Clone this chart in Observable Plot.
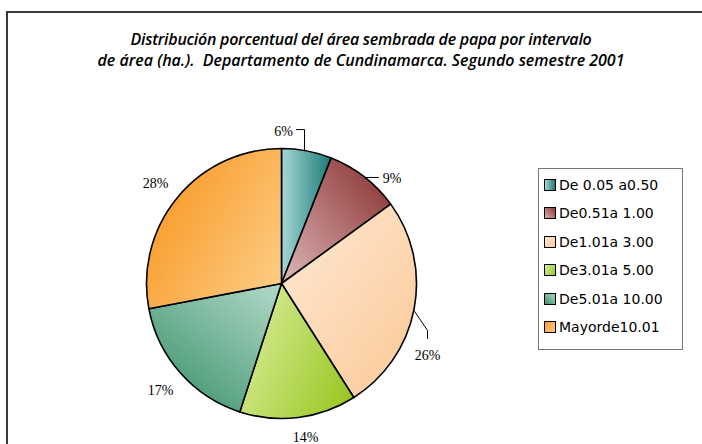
<!DOCTYPE html>
<html><head><meta charset="utf-8">
<script src="https://cdn.jsdelivr.net/npm/d3@7"></script>
<script src="https://cdn.jsdelivr.net/npm/@observablehq/plot@0.6"></script>
<style>
body{margin:0;background:#fff;}
#wrap{position:relative;width:702px;height:444px;overflow:hidden;background:#fff;}
#frame{position:absolute;left:6px;top:11px;width:800px;height:600px;border-left:2px solid #3a3a3a;border-top:2px solid #3a3a3a;pointer-events:none;}
#title{position:absolute;left:0;top:29px;width:722px;text-align:center;font:italic 600 16px "Open Sans";line-height:21px;color:#000;}
#title span{display:inline-block;white-space:pre;}
#chart{position:absolute;left:0;top:80px;}
#legend{position:absolute;left:538px;top:168px;width:145px;height:182px;border:1px solid #777;box-sizing:border-box;background:#fff;}
.item{position:absolute;left:5px;height:16px;display:flex;align-items:center;font:14px "DejaVu Sans";white-space:pre;color:#000;}
.sw{width:10px;height:10px;border:1px solid #000;margin-right:3px;flex:none;}
</style>
</head>
<body>
<div id="wrap">
  <div id="title"><span id="t1">Distribución porcentual del área sembrada de papa por intervalo</span><br><span id="t2">de área (ha.).  Departamento de Cundinamarca. Segundo semestre 2001</span></div>
  <div id="chart"></div>
  <div id="legend"></div>
  <div id="frame"></div>
</div>
<script>
// ---- data ----
const categories = ["De 0.05 a0.50", "De0.51a 1.00", "De1.01a 3.00", "De3.01a 5.00", "De5.01a 10.00", "Mayorde10.01"];
const percents = [6, 9, 26, 14, 17, 28];
const labels = ["6%", "9%", "26%", "14%", "17%", "28%"];

// ---- styles (slice gradients) ----
const gradients = [
  {x1: 0, y1: 0.5, x2: 1, y2: 0.5, stops: ["#a6d7d5", "#1b7a77"]},
  {x1: 0.1, y1: 1, x2: 1, y2: 0.15, stops: ["#d9b0b0", "#8c3535"]},
  {x1: 0.1, y1: 0.1, x2: 0.9, y2: 0.95, stops: ["#fee6d0", "#fccb9a"]},
  {x1: 0, y1: 0.3, x2: 1, y2: 0.8, stops: ["#d8ec96", "#98c824"]},
  {x1: 0.2, y1: 1, x2: 0.95, y2: 0.1, stops: ["#3e936e", "#a9d4c1"]},
  {x1: 0.2, y1: 0.2, x2: 1, y2: 0.75, stops: ["#f89e2e", "#fdca80"]}
];

// ---- layout (unit circle coordinates, radius = 1) ----
const labelPos = [[0.011, 1.13], [0.815, 0.781], [1.078, -0.53], [0.174, -1.137], [-0.9, -0.789], [-0.937, 0.744]];
const leaders = [
  [[0.167, 0.986], [0.167, 1.144], [0.107, 1.144]],
  [[0.615, 0.789], [0.715, 0.789]],
  [[0.98, -0.2], [1.078, -0.344], [1.078, -0.404]]
];

const slices = categories.map((c, i) => ({category: c, value: percents[i], label: labels[i], i}));
const labelData = slices.map((d, i) => ({label: d.label, x: labelPos[i][0], y: labelPos[i][1]}));
const leaderData = leaders.flatMap((pts, k) => pts.map(([x, y]) => ({k, x, y})));

function pieMark(data) {
  return (index, scales, values, dims) => {
    const cx = scales.x(0), cy = scales.y(0), r = scales.x(1) - scales.x(0);
    const g = d3.create("svg:g");
    const defs = g.append("defs");
    gradients.forEach((gr, i) => {
      const lg = defs.append("linearGradient").attr("id", "sg" + i)
        .attr("x1", gr.x1).attr("y1", gr.y1).attr("x2", gr.x2).attr("y2", gr.y2);
      lg.append("stop").attr("offset", 0).attr("stop-color", gr.stops[0]);
      lg.append("stop").attr("offset", 1).attr("stop-color", gr.stops[1]);
    });
    const arcs = d3.pie().sort(null).value(d => d.value)(data);
    const arc = d3.arc().innerRadius(0).outerRadius(r);
    g.append("g").attr("transform", `translate(${cx},${cy})`)
      .selectAll("path").data(arcs).join("path")
      .attr("d", arc)
      .attr("fill", (d, i) => `url(#sg${i})`)
      .attr("stroke", "#000").attr("stroke-width", 1.6).attr("stroke-linejoin", "round");
    return g.node();
  };
}

const W = 702, H = 364, R = 135, CX = 281.5, CY = 203.5;
const chart = Plot.plot({
  width: W, height: H,
  margin: 0,
  x: {domain: [-CX / R, (W - CX) / R], axis: null},
  y: {domain: [-(H - CY) / R, CY / R], axis: null},
  marks: [
    pieMark(slices),
    Plot.line(leaderData, {x: "x", y: "y", z: "k", stroke: "#000", strokeWidth: 1}),
    Plot.text(labelData, {x: "x", y: "y", text: "label", fontSize: 14, fontFamily: "Liberation Serif", fill: "#000"})
  ]
});
chart.style.background = "transparent";
document.getElementById("chart").appendChild(chart);

// legend
const legend = d3.select("#legend");
slices.forEach((d, i) => {
  const gr = gradients[i];
  const item = legend.append("div").attr("class", "item").style("top", (8 + i * 28.4) + "px");
  item.append("div").attr("class", "sw")
    .style("background", `linear-gradient(${Math.round(90 + Math.atan2(gr.y2 - gr.y1, gr.x2 - gr.x1) * 180 / Math.PI)}deg, ${gr.stops[0]}, ${gr.stops[1]})`);
  item.append("span").text(d.category);
});

// fit title lines to reference widths
[["t1", 461], ["t2", 527]].forEach(([id, target]) => {
  const el = document.getElementById(id);
  const w = el.getBoundingClientRect().width;
  const n = el.textContent.length;
  el.style.letterSpacing = ((target - w) / n) + "px";
});
</script>
</body></html>
